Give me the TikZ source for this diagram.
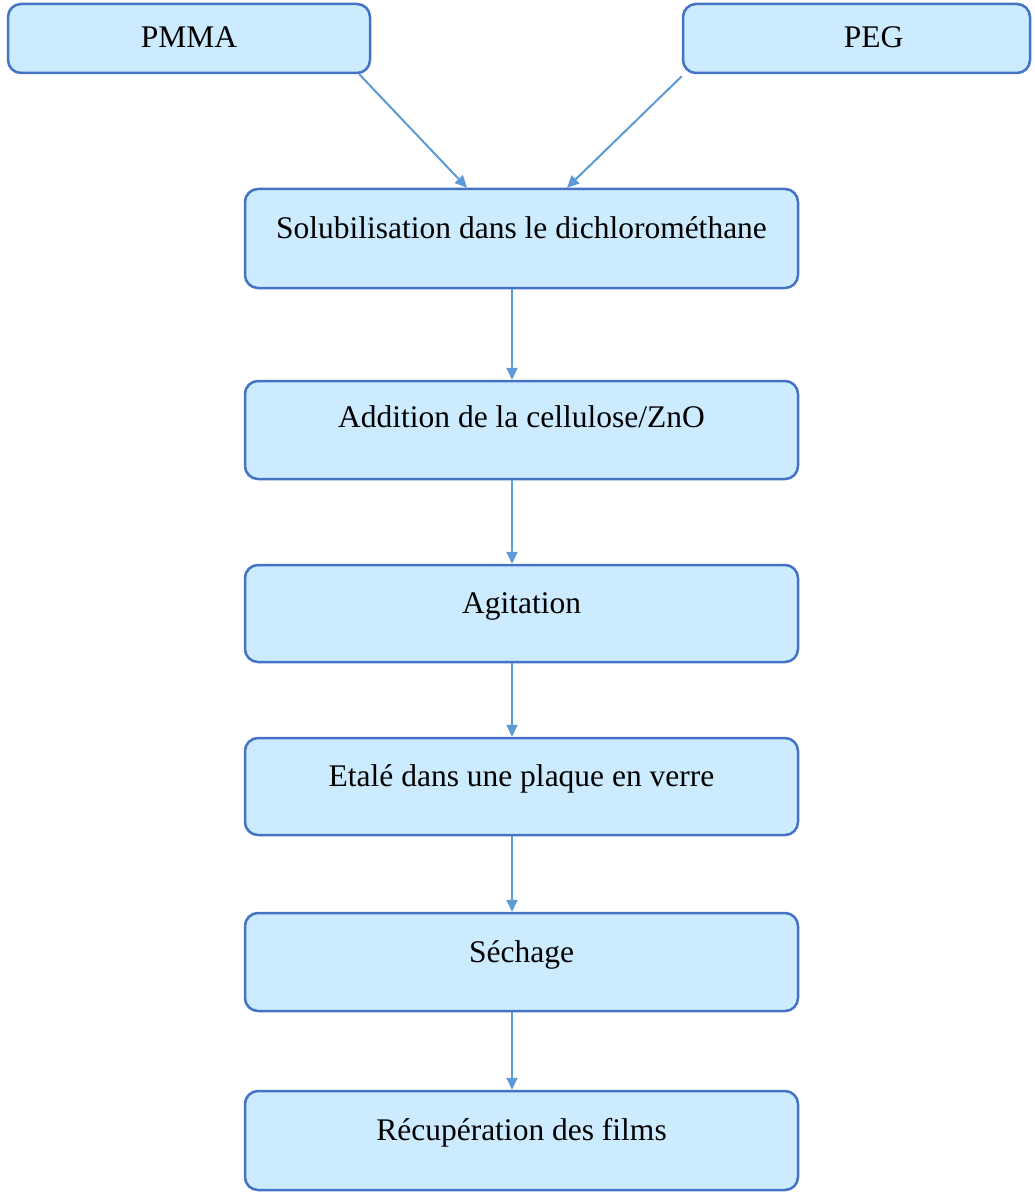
\documentclass[tikz,border=0pt]{standalone}
\usepackage{fontspec}
\setmainfont{Liberation Serif}
\usetikzlibrary{arrows.meta}
\definecolor{boxline}{HTML}{4472C4}
\definecolor{boxfill}{HTML}{CCEBFF}
\definecolor{arrowc}{HTML}{5B9BD5}
\begin{document}
\begin{tikzpicture}[x=1pt,y=-1pt,
  procbox/.style={draw=boxline, fill=boxfill, line width=2.5pt, rounded corners=13pt,
    inner sep=0pt, font=\fontsize{31.5}{37}\selectfont, text height=23pt, text depth=23pt,
    minimum width=553pt, minimum height=98pt},
  topbox/.style={draw=boxline, fill=boxfill, line width=2.5pt, rounded corners=13pt,
    inner sep=0pt, font=\fontsize{31.5}{37}\selectfont, text height=23pt, text depth=4pt,
    minimum height=69pt},
  flow/.style={draw=arrowc, line width=2pt, -{Triangle[length=12pt,width=11pt]}}]
\useasboundingbox (0,0) rectangle (1035,1193);
\node[topbox, minimum width=362pt] (pmma) at (189,38.5) {PMMA};
\node[topbox, minimum width=347pt] (peg) at (856.5,38.5) {\hspace*{34pt}PEG};
\node[procbox, minimum height=99pt] (sol) at (521.5,238.5) {Solubilisation dans le dichlorométhane};
\node[procbox, text depth=27pt, text height=21pt] (add) at (521.5,430) {Addition de la cellulose/ZnO};
\node[procbox, minimum height=97pt] (agi) at (521.5,613.5) {Agitation};
\node[procbox, minimum height=97pt] (eta) at (521.5,786.5) {Etalé dans une plaque en verre};
\node[procbox] (sec) at (521.5,962) {Séchage};
\node[procbox, minimum height=99pt] (rec) at (521.5,1140.5) {Récupération des films};
\draw[flow] ([xshift=-12pt]pmma.south east) -- ([xshift=-54.5pt]sol.north);
\draw[flow] ([yshift=-2pt]peg.south west) -- ([xshift=45.5pt]sol.north);
\draw[flow] ([xshift=-9.5pt]sol.south) -- ([xshift=-9.5pt]add.north);
\draw[flow] ([xshift=-9.5pt]add.south) -- ([xshift=-9.5pt]agi.north);
\draw[flow] ([xshift=-9.5pt]agi.south) -- ([xshift=-9.5pt]eta.north);
\draw[flow] ([xshift=-9.5pt]eta.south) -- ([xshift=-9.5pt]sec.north);
\draw[flow] ([xshift=-9.5pt]sec.south) -- ([xshift=-9.5pt]rec.north);
\end{tikzpicture}
\end{document}
